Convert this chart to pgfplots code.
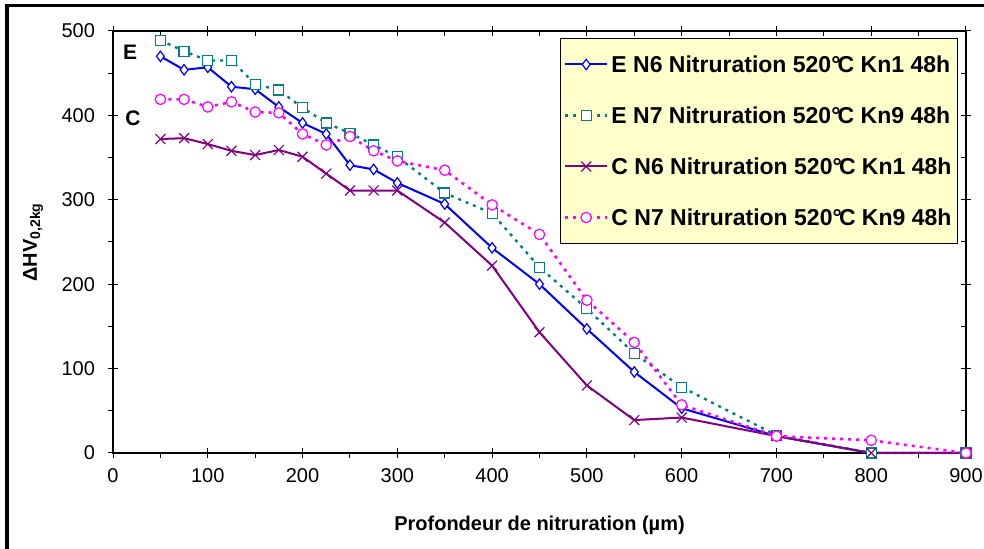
\documentclass[border=0pt]{standalone}
\usepackage{pgfplots}
\pgfplotsset{compat=1.18}
\usepackage{fontspec}
\setmainfont{Liberation Sans}
\newcommand{\degC}{°\kern-0.12em C}

\definecolor{cblue}{RGB}{0,0,255}
\definecolor{cteal}{RGB}{0,128,128}
\definecolor{cpurple}{RGB}{128,0,128}
\definecolor{cpink}{RGB}{255,0,255}
\definecolor{legfill}{RGB}{255,255,204}

\begin{document}
\begin{tikzpicture}
\useasboundingbox (0,0) rectangle (492pt,274.5pt);
\draw[line width=1.75pt] (3.5pt,0) -- (3.5pt,271.7pt) -- (492pt,271.7pt);
\begin{axis}[
    at={(56.5pt,48pt)}, anchor=south west,
    scale only axis, width=426.5pt, height=211pt,
    xmin=0, xmax=900, ymin=0, ymax=500,
    xtick={0,100,...,900}, ytick={0,100,...,500},
    minor tick num=1,
    tick align=center,
    major tick length=5pt, minor tick length=2.5pt,
    minor x tick style={yshift=-1.25pt},
    minor y tick style={xshift=-1.25pt},
    tick style={black, line width=0.5pt},
    axis line style={line width=0.6pt},
    /pgf/number format/assume math mode=true,
    ticklabel style={font=\fontsize{10}{12}\selectfont},
    xticklabel style={yshift=-1.5pt},
    yticklabel style={xshift=-3pt},
    clip=false,
    xlabel={Profondeur de nitruration (µm)},
    ylabel={ΔHV\textsubscript{0,2kg}},
    label style={font=\bfseries\fontsize{10}{12}\selectfont},
    xlabel style={at={(axis description cs:0.5,-0.1706)}, anchor=center},
    ylabel style={at={(axis description cs:-0.0938,0.5)}, anchor=center},
    legend style={at={(1,1)}, anchor=north east, xshift=-4pt, yshift=-3.5pt,
        fill=legfill, draw=black, line width=0.5pt,
        font=\bfseries\fontsize{11.5}{13}\selectfont,
        inner xsep=1.5pt, inner ysep=8pt, row sep=15.5pt,
        nodes={inner xsep=1.5pt, inner ysep=0pt, text height=9pt, text depth=1pt, anchor=west}},
    legend cell align=left,
    legend image code/.code={\draw[mark repeat=2,mark phase=2] plot coordinates {(0pt,0pt) (10.5pt,0pt) (21pt,0pt)};},
]
% E N6
\addplot[cblue, line width=1pt, mark=diamond*, mark size=2.6pt,
    mark options={solid, fill=white, line width=0.6pt}]
    coordinates {(50,470)(75,454)(100,457)(125,434)(150,431)(175,410)(200,391)(225,378)(250,341)(275,336)(300,320)(350,295)(400,243)(450,200)(500,147)(550,96)(600,53)(700,20)(800,0)(900,0)};
\addlegendentry{E N6 Nitruration 520\degC{} Kn1 48h}
% E N7
\addplot[cteal, line width=1.2pt, dash pattern=on 1.5pt off 2.5pt, mark=square*, mark size=2.5pt,
    mark options={solid, fill=white, line width=0.6pt}]
    coordinates {(50,489)(75,476)(100,465)(125,465)(150,437)(175,430)(200,409)(225,391)(250,379)(275,365)(300,351)(350,308)(400,284)(450,220)(500,171)(550,118)(600,78)(700,21)(800,0)(900,0)};
\addlegendentry{E N7 Nitruration 520\degC{} Kn9 48h}
% C N6
\addplot[cpurple, line width=1pt, mark=x, mark size=3.5pt,
    mark options={solid, line width=0.6pt}]
    coordinates {(50,372)(75,373)(100,366)(125,358)(150,353)(175,359)(200,351)(225,331)(250,311)(275,311)(300,311)(350,273)(400,222)(450,143)(500,80)(550,39)(600,42)(700,20)(800,0)(900,0)};
\addlegendentry{C N6 Nitruration 520\degC{} Kn1 48h}
% C N7
\addplot[cpink, line width=1.3pt, dash pattern=on 1.5pt off 2.5pt, mark=*, mark size=2.6pt,
    mark options={solid, fill=white, line width=0.6pt}]
    coordinates {(50,419)(75,419)(100,410)(125,416)(150,404)(175,403)(200,378)(225,365)(250,375)(275,358)(300,346)(350,335)(400,294)(450,259)(500,181)(550,131)(600,57)(700,20)(800,15)(900,0)};
\addlegendentry{C N7 Nitruration 520\degC{} Kn9 48h}

\node[font=\bfseries\fontsize{10.5}{12}\selectfont] at (axis cs:18,475) {E};
\node[font=\bfseries\fontsize{10.5}{12}\selectfont] at (axis cs:21,397) {C};
\end{axis}
\end{tikzpicture}
\end{document}
